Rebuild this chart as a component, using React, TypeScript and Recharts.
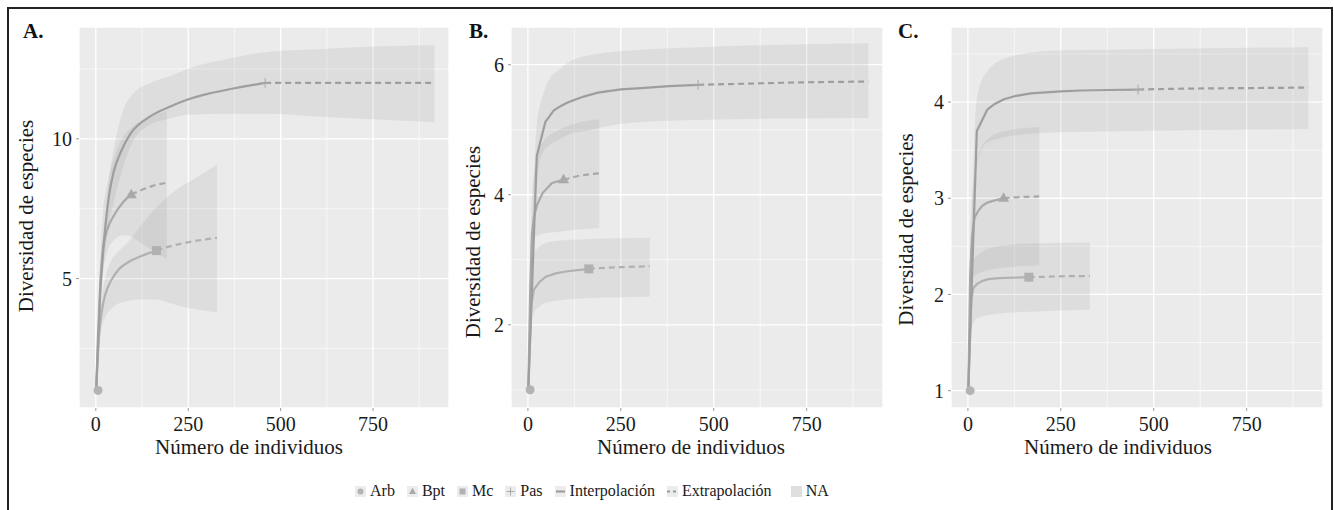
import React from "react";
import { ComposedChart, Area, Line, Scatter, XAxis, YAxis, CartesianGrid } from "recharts";

const FONT = '"Liberation Serif", "Times New Roman", serif';

// shared axis setup
const xTicks = [0, 250, 500, 750];
const xMinor = [125, 375, 625, 875];
const xDomain = [-45.5, 955.5];

// Arb only ever has one species
const arbInterp = [[1, 1], [6, 1]];
const arbExtrap = [[6, 1], [12, 1]];
const arbBand = [[1, 1, 1], [12, 1, 1]];

// ---- panel A
const aYTicks = [5, 10];
const aYMinor = [2.5, 7.5, 12.5];
const aYDomain = [0.37, 14.0];
const aBptInterp = [[1, 1], [6, 3.0], [12, 4.8], [19, 6.0], [30, 6.7], [51, 7.3], [75, 7.75], [96, 8.0]];
const aBptExtrap = [[96, 8.0], [120, 8.15], [150, 8.3], [192, 8.43]];
const aBptBand = [[1, 1, 1], [6, 2.6, 3.5], [12, 4.0, 5.6], [19, 5.2, 7.3], [30, 5.9, 8.3], [51, 6.4, 9.4], [75, 6.55, 10.1], [96, 6.5, 10.4], [130, 6.2, 10.7], [160, 5.95, 10.85], [192, 5.7, 11.0]];
const aMcInterp = [[1, 1], [9, 3.0], [17, 3.9], [25, 4.4], [40, 4.9], [60, 5.3], [90, 5.6], [122, 5.8], [164, 6.0]];
const aMcExtrap = [[164, 6.0], [200, 6.15], [250, 6.3], [328, 6.46]];
const aMcBand = [[1, 1, 1], [9, 2.6, 3.4], [17, 3.3, 4.4], [25, 3.6, 5.0], [40, 3.9, 5.6], [60, 4.1, 5.95], [87, 4.2, 6.3], [122, 4.25, 6.9], [164, 4.25, 7.55], [187, 4.18, 7.85], [220, 4.05, 8.2], [270, 3.9, 8.6], [328, 3.79, 9.07]];
const aPasInterp = [[1, 1], [12, 4.5], [24, 6.6], [36, 8.0], [48, 8.8], [70, 9.6], [95, 10.2], [147, 10.8], [200, 11.15], [247, 11.4], [300, 11.6], [372, 11.8], [458, 12.0]];
const aPasExtrap = [[458, 12.0], [600, 12.0], [750, 12.0], [916, 12.0]];
const aPasBand = [[1, 1, 1], [12, 3.8, 5.3], [24, 5.8, 7.0], [36, 7.0, 8.6], [48, 7.7, 9.6], [74, 9.0, 11.0], [100, 9.9, 11.6], [147, 10.5, 12.0], [192, 10.7, 12.2], [247, 10.86, 12.5], [373, 10.9, 12.9], [458, 10.9, 13.1], [600, 10.8, 13.2], [750, 10.7, 13.3], [916, 10.6, 13.36]];

// ---- panel B
const bYTicks = [2, 4, 6];
const bYMinor = [1, 3, 5];
const bYDomain = [0.72, 6.58];
const bBptInterp = [[1, 1], [6, 2.5], [11, 3.4], [16, 3.65], [25, 3.85], [40, 4.03], [65, 4.18], [96, 4.23]];
const bBptExtrap = [[96, 4.23], [130, 4.28], [160, 4.31], [192, 4.33]];
const bBptBand = [[1, 1, 1], [6, 2.2, 2.9], [11, 3.0, 4.0], [21, 3.36, 4.5], [39, 3.4, 4.8], [84, 3.43, 5.0], [130, 3.46, 5.1], [192, 3.49, 5.16]];
const bMcInterp = [[1, 1], [9, 2.3], [16, 2.54], [30, 2.65], [48, 2.74], [75, 2.79], [102, 2.82], [164, 2.86]];
const bMcExtrap = [[164, 2.86], [220, 2.88], [270, 2.89], [328, 2.9]];
const bMcBand = [[1, 1, 1], [9, 2.0, 2.7], [21, 2.23, 3.15], [65, 2.36, 3.28], [164, 2.41, 3.32], [328, 2.43, 3.34]];
const bPasInterp = [[1, 1], [24, 4.6], [47, 5.12], [70, 5.3], [90, 5.37], [107, 5.42], [130, 5.47], [150, 5.51], [188, 5.57], [250, 5.62], [305, 5.64], [380, 5.67], [458, 5.69]];
const bPasExtrap = [[458, 5.69], [600, 5.71], [750, 5.73], [916, 5.74]];
const bPasBand = [[1, 1, 1], [24, 4.2, 5.1], [39, 4.64, 5.5], [62, 4.78, 5.82], [84, 4.85, 5.92], [107, 4.92, 6.03], [170, 5.0, 6.15], [191, 5.03, 6.17], [305, 5.12, 6.23], [458, 5.15, 6.27], [916, 5.18, 6.33]];

// ---- panel C
const cYTicks = [1, 2, 3, 4];
const cYMinor = [1.5, 2.5, 3.5, 4.5];
const cYDomain = [0.82, 4.78];
const cBptInterp = [[1, 1], [6, 2.2], [11, 2.6], [18, 2.8], [28, 2.87], [38, 2.92], [50, 2.95], [65, 2.97], [96, 3.0]];
const cBptExtrap = [[96, 3.0], [130, 3.01], [160, 3.015], [192, 3.02]];
const cBptBand = [[1, 1, 1], [6, 1.9, 2.5], [15, 2.18, 3.2], [29, 2.22, 3.46], [65, 2.26, 3.65], [101, 2.28, 3.7], [192, 2.3, 3.74]];
const cMcInterp = [[1, 1], [9, 1.95], [15, 2.07], [25, 2.11], [38, 2.14], [55, 2.16], [83, 2.17], [164, 2.18]];
const cMcExtrap = [[164, 2.18], [220, 2.185], [270, 2.19], [328, 2.19]];
const cMcBand = [[1, 1, 1], [9, 1.65, 2.3], [29, 1.76, 2.42], [80, 1.8, 2.5], [164, 1.82, 2.53], [328, 1.84, 2.54]];
const cPasInterp = [[1, 1], [24, 3.7], [52, 3.92], [72, 3.98], [97, 4.03], [130, 4.065], [169, 4.09], [250, 4.11], [304, 4.12], [380, 4.125], [458, 4.13]];
const cPasExtrap = [[458, 4.13], [600, 4.14], [750, 4.145], [916, 4.15]];
const cPasBand = [[1, 1, 1], [24, 3.35, 4.04], [52, 3.58, 4.32], [106, 3.64, 4.46], [214, 3.68, 4.53], [304, 3.69, 4.54], [458, 3.7, 4.55], [916, 3.72, 4.57]];

const legendLabels = ["Arb", "Bpt", "Mc", "Pas", "Interpolación", "Extrapolación", "NA"];

const colArb = "#b3b3b3";
const colBpt = "#a9a9a9";
const colMc = "#b1b1b1";
const colPas = "#9e9e9e";

const pts = (arr: number[][]) => arr.map(([x, y]) => ({ x, y }));
const band = (arr: number[][]) => arr.map(([x, lo, hi]) => ({ x, lo, hi }));

const circleShape = (p: any) => <circle cx={p.cx} cy={p.cy} r={4.5} fill={colArb} />;
const triShape = (p: any) => (
  <polygon points={`${p.cx},${p.cy - 6} ${p.cx + 5.5},${p.cy + 3.5} ${p.cx - 5.5},${p.cy + 3.5}`} fill={colBpt} />
);
const squareShape = (p: any) => <rect x={p.cx - 4.5} y={p.cy - 4.5} width={9} height={9} fill={colMc} />;
const plusShape = (p: any) => (
  <g stroke="#ababab" strokeWidth={1}>
    <line x1={p.cx - 5} x2={p.cx + 5} y1={p.cy} y2={p.cy} />
    <line x1={p.cx} x2={p.cx} y1={p.cy - 5} y2={p.cy + 5} />
  </g>
);

function groupsOf(bpt: number[][][], mc: number[][][], pas: number[][][]) {
  return [
    { name: "Arb", interp: arbInterp, extrap: arbExtrap, band: arbBand, color: colArb, shape: circleShape },
    { name: "Bpt", interp: bpt[0], extrap: bpt[1], band: bpt[2], color: colBpt, shape: triShape },
    { name: "Mc", interp: mc[0], extrap: mc[1], band: mc[2], color: colMc, shape: squareShape },
    { name: "Pas", interp: pas[0], extrap: pas[1], band: pas[2], color: colPas, shape: plusShape },
  ];
}

const tickStyle = { fontSize: 20, fill: "#1a1a1a", fontFamily: FONT };

function Panel(props: any) {
  const { left, width, yWidth, right, yDomain, yTicks, yMinor, groups, xShift, yShift, yTitleX, letter, curve } = props;
  return (
    <div style={{ position: "absolute", left, top: 0 }}>
      <ComposedChart width={width} height={470} margin={{ top: 27, right, bottom: 0, left: 0 }}>
        <CartesianGrid fill="#EBEBEB" stroke="#fff" strokeWidth={0.6} horizontalValues={yMinor} verticalValues={xMinor} />
        <CartesianGrid stroke="#fff" strokeWidth={1.3} />
        <XAxis
          type="number"
          dataKey="x"
          domain={xDomain}
          ticks={xTicks}
          allowDataOverflow
          height={62}
          axisLine={false}
          tickSize={3}
          tickMargin={6}
          tickLine={{ stroke: "#999" }}
          tick={tickStyle}
          label={(p: any) => {
            const vb = p.viewBox || {};
            return (
              <text x={vb.x + vb.width / 2 + xShift} y={454} textAnchor="middle" fontSize={21} fontFamily={FONT} fill="#1a1a1a">
                Número de individuos
              </text>
            );
          }}
        />
        <YAxis
          type="number"
          domain={yDomain}
          ticks={yTicks}
          allowDataOverflow
          width={yWidth}
          axisLine={false}
          tickSize={3}
          tickMargin={4}
          tickLine={{ stroke: "#999" }}
          tick={tickStyle}
          label={(p: any) => {
            const vb = p.viewBox || {};
            const cy = vb.y + vb.height / 2 + yShift;
            return (
              <text
                x={yTitleX}
                y={cy}
                transform={`rotate(-90, ${yTitleX}, ${cy})`}
                textAnchor="middle"
                dominantBaseline="central"
                fontSize={21}
                fontFamily={FONT}
                fill="#1a1a1a"
              >
                Diversidad de especies
              </text>
            );
          }}
        />
        {groups.map((g: any) => (
          <Area
            key={"band" + g.name}
            data={band(g.band)}
            dataKey={(d: any) => [d.lo, d.hi]}
            type="monotone"
            stroke="none"
            fill="#808080"
            fillOpacity={0.13}
            isAnimationActive={false}
          />
        ))}
        {groups.map((g: any) => (
          <Line
            key={"int" + g.name}
            data={pts(g.interp)}
            dataKey="y"
            type={curve}
            stroke={g.color}
            strokeWidth={2.2}
            dot={false}
            isAnimationActive={false}
          />
        ))}
        {groups.map((g: any) => (
          <Line
            key={"ext" + g.name}
            data={pts(g.extrap)}
            dataKey="y"
            type="monotone"
            stroke={g.color}
            strokeWidth={2.2}
            strokeDasharray="6 4"
            dot={false}
            isAnimationActive={false}
          />
        ))}
        {groups.map((g: any) => (
          <Scatter
            key={"pt" + g.name}
            data={pts([g.interp[g.interp.length - 1]])}
            dataKey="y"
            shape={g.shape}
            isAnimationActive={false}
          />
        ))}
      </ComposedChart>
      <div
        style={{
          position: "absolute",
          left: props.letterLeft,
          top: 21,
          fontFamily: FONT,
          fontWeight: "bold",
          fontSize: 21,
          lineHeight: "21px",
          color: "#111",
        }}
      >
        {letter}
      </div>
    </div>
  );
}

function LegendKey({ kind }: { kind: number }) {
  const box = { width: 11, height: 11, display: "block" };
  return (
    <svg style={box} viewBox="0 0 11 11">
      <rect x={0} y={0} width={11} height={11} fill={kind === 6 ? "#dedede" : "#ececec"} />
      {kind === 0 && <circle cx={5.5} cy={5.5} r={3} fill={colArb} />}
      {kind === 1 && <polygon points="5.5,1.8 9,8 2,8" fill={colBpt} />}
      {kind === 2 && <rect x={2.5} y={2.5} width={6} height={6} fill={colMc} />}
      {kind === 3 && (
        <g stroke="#ababab" strokeWidth={1}>
          <line x1={1.5} x2={9.5} y1={5.5} y2={5.5} />
          <line x1={5.5} x2={5.5} y1={1.5} y2={9.5} />
        </g>
      )}
      {kind === 4 && <line x1={1} x2={10} y1={5.5} y2={5.5} stroke="#999" strokeWidth={2} />}
      {kind === 5 && <line x1={0} x2={11} y1={5.5} y2={5.5} stroke="#999" strokeWidth={2} strokeDasharray="3 3" />}
    </svg>
  );
}

export default function App() {
  return (
    <div style={{ position: "fixed", left: 0, top: 0, width: 1334, height: 510, background: "#fff", overflow: "hidden" }}>
      <div
        style={{
          position: "absolute",
          left: 7,
          top: 7,
          width: 1322,
          height: 510,
          borderTop: "2px solid #222",
          borderLeft: "2px solid #222",
          borderRight: "2px solid #222",
        }}
      />
      <Panel
        left={0}
        width={460}
        yWidth={79}
        right={11}
        yDomain={aYDomain}
        yTicks={aYTicks}
        yMinor={aYMinor}
        groups={groupsOf([aBptInterp, aBptExtrap, aBptBand], [aMcInterp, aMcExtrap, aMcBand], [aPasInterp, aPasExtrap, aPasBand])}
        xShift={-15}
        yShift={-1.5}
        yTitleX={26}
        letter="A."
        letterLeft={23}
        curve="monotone"
      />
      <Panel
        left={440}
        width={455}
        yWidth={71}
        right={12}
        yDomain={bYDomain}
        yTicks={bYTicks}
        yMinor={bYMinor}
        groups={groupsOf([bBptInterp, bBptExtrap, bBptBand], [bMcInterp, bMcExtrap, bMcBand], [bPasInterp, bPasExtrap, bPasBand])}
        xShift={-6}
        yShift={24.5}
        yTitleX={33}
        letter="B."
        letterLeft={29}
        curve="linear"
      />
      <Panel
        left={880}
        width={454}
        yWidth={71}
        right={11}
        yDomain={cYDomain}
        yTicks={cYTicks}
        yMinor={cYMinor}
        groups={groupsOf([cBptInterp, cBptExtrap, cBptBand], [cMcInterp, cMcExtrap, cMcBand], [cPasInterp, cPasExtrap, cPasBand])}
        xShift={-19}
        yShift={12}
        yTitleX={26}
        letter="C."
        letterLeft={18}
        curve="linear"
      />
      <div
        style={{
          position: "absolute",
          left: 355,
          top: 482,
          display: "flex",
          alignItems: "center",
          fontFamily: FONT,
          fontSize: 16,
          color: "#1a1a1a",
          whiteSpace: "nowrap",
        }}
      >
        {legendLabels.map((label, i) => (
          <div key={label} style={{ display: "flex", alignItems: "center", marginRight: i === 5 ? 19 : 12 }}>
            <LegendKey kind={i} />
            <span style={{ marginLeft: 4 }}>{label}</span>
          </div>
        ))}
      </div>
    </div>
  );
}
